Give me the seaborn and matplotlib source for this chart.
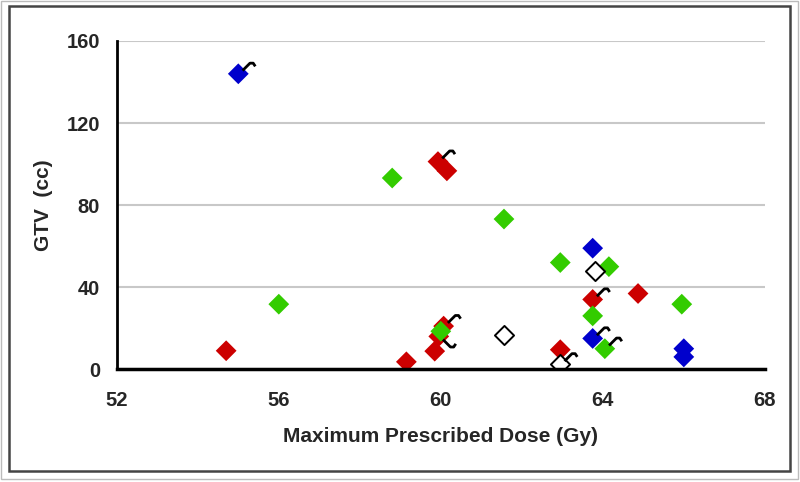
import matplotlib
matplotlib.use("Agg")
import matplotlib.pyplot as plt
import pandas as pd
import seaborn as sns
from matplotlib.patches import Rectangle
from matplotlib.path import Path

# data (dose in Gy, GTV in cc)
blue_dose = [55.0, 63.75, 63.75, 66.0, 66.0]
blue_gtv = [144, 59, 15, 10, 6]
blue_mark = ["up", "", "up", "", ""]

red_dose = [54.7, 59.15, 59.85, 59.95, 60.07, 59.93, 60.15, 62.95, 63.75, 64.87]
red_gtv = [9, 3.6, 8.8, 16, 21, 101.2, 96.7, 9.5, 34, 36.9]
red_mark = ["", "", "", "down", "up", "up", "", "", "up", ""]

green_dose = [56.0, 58.8, 61.56, 62.95, 64.15, 63.75, 64.05, 65.95, 60.0]
green_gtv = [31.7, 93.2, 73.2, 52, 50, 26, 10, 31.7, 18.5]
green_mark = ["", "", "", "", "", "", "up", "", ""]

open_dose = [63.8, 61.56, 62.95]
open_gtv = [48, 16.9, 2.4]
open_mark = ["", "", "up"]

GROUP_COLORS = {"blue": "#0000CC", "red": "#CC0000", "green": "#33CC00"}
X_TICKS = [52, 56, 60, 64, 68]
Y_TICKS = [0, 40, 80, 120, 160]


def build_frame() -> pd.DataFrame:
    parts = []
    for name, dose, gtv, mark in [
        ("blue", blue_dose, blue_gtv, blue_mark),
        ("red", red_dose, red_gtv, red_mark),
        ("green", green_dose, green_gtv, green_mark),
        ("open", open_dose, open_gtv, open_mark),
    ]:
        parts.append(pd.DataFrame({"dose": dose, "gtv": gtv, "group": name, "mark": mark}))
    return pd.concat(parts, ignore_index=True)


def hook_marker(flip: bool = False) -> Path:
    verts = [(4, 3), (11, 10), (14, 10), (16, 7)]
    if flip:
        verts = [(x, -y) for x, y in verts]
    codes = [Path.MOVETO, Path.LINETO, Path.LINETO, Path.LINETO]
    return Path(verts, codes)


df = build_frame()

sns.set_style("white")
plt.rcParams["font.family"] = ["Liberation Sans", "DejaVu Sans"]

fig = plt.figure(figsize=(8, 4.82), dpi=100)
ax = fig.add_axes([0.146, 0.234, 0.81, 0.681])

filled = df[df["group"] != "open"]
sns.scatterplot(
    data=filled, x="dose", y="gtv", hue="group", palette=GROUP_COLORS,
    marker="D", s=112, linewidth=0, legend=False, ax=ax, zorder=3,
)
sns.scatterplot(
    data=df[df["group"] == "open"], x="dose", y="gtv", color="white",
    marker="D", s=95, edgecolor="black", linewidth=1.4, legend=False, ax=ax, zorder=4,
)
for mark, flip in [("up", False), ("down", True)]:
    sub = df[df["mark"] == mark]
    ax.scatter(sub["dose"], sub["gtv"], marker=hook_marker(flip), s=600,
               facecolors="none", edgecolors="black", linewidths=2, zorder=5)

ax.set_xlim(52, 68)
ax.set_ylim(0, 160)
ax.set_xticks(X_TICKS)
ax.set_yticks(Y_TICKS)
ax.yaxis.grid(True, color="#C8C8C8", linewidth=1.5)
ax.xaxis.grid(False)
ax.set_axisbelow(True)

for side in ["top", "right"]:
    ax.spines[side].set_visible(False)
ax.spines["left"].set_linewidth(2)
ax.spines["bottom"].set_linewidth(2.5)
ax.spines["left"].set_color("black")
ax.spines["bottom"].set_color("black")
ax.spines["bottom"].set_zorder(6)

ax.tick_params(axis="both", direction="out", length=5, width=2, color="black",
               labelsize=14.5)
ax.tick_params(axis="x", pad=11)
ax.tick_params(axis="y", pad=7)
for lab in ax.get_xticklabels() + ax.get_yticklabels():
    lab.set_fontweight("bold")

ax.set_xlabel("Maximum Prescribed Dose (Gy)", fontsize=15, fontweight="bold", labelpad=12)
ax.set_ylabel("GTV  (cc)", fontsize=15, fontweight="bold", labelpad=10)

# outer picture frame
fig.patches.append(Rectangle((9 / 800, 1 - 471 / 482), 781 / 800, 465 / 482,
                             transform=fig.transFigure, fill=False,
                             edgecolor="#444444", linewidth=1.8))
fig.patches.append(Rectangle((1 / 800, 1 - 479 / 482), 797 / 800, 478 / 482,
                             transform=fig.transFigure, fill=False,
                             edgecolor="#BBBBBB", linewidth=1))

fig.savefig("out.png", dpi=100)
